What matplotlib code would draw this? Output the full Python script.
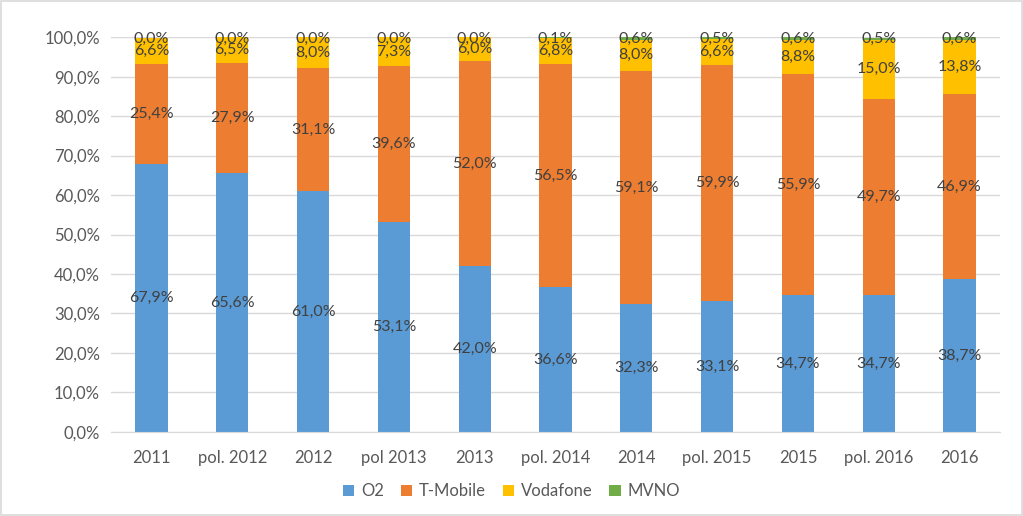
import matplotlib
matplotlib.use("Agg")
import matplotlib.pyplot as plt
import numpy as np

plt.rcParams['font.family'] = ['Lato', 'DejaVu Sans']

categories = ['2011', 'pol. 2012', '2012', 'pol 2013', '2013', 'pol. 2014',
              '2014', 'pol. 2015', '2015', 'pol. 2016', '2016']
o2 = [67.9, 65.6, 61.0, 53.1, 42.0, 36.6, 32.3, 33.1, 34.7, 34.7, 38.7]
tmobile = [25.4, 27.9, 31.1, 39.6, 52.0, 56.5, 59.1, 59.9, 55.9, 49.7, 46.9]
vodafone = [6.6, 6.5, 8.0, 7.3, 6.0, 6.8, 8.0, 6.6, 8.8, 15.0, 13.8]
mvno = [0.0, 0.0, 0.0, 0.0, 0.0, 0.1, 0.6, 0.5, 0.6, 0.5, 0.6]

series = [('O2', o2, '#5B9BD5'), ('T-Mobile', tmobile, '#ED7D31'),
          ('Vodafone', vodafone, '#FFC000'), ('MVNO', mvno, '#70AD47')]

fig = plt.figure(figsize=(10.23, 5.16), dpi=100)
ax = fig.add_axes([0.1085, 0.163, 0.869, 0.765])

x = np.arange(len(categories))
bottom = np.zeros(len(categories))
for name, vals, color in series:
    vals = np.array(vals)
    ax.bar(x, vals, 0.4, bottom=bottom, color=color, label=name, zorder=2)
    for xi, b, v in zip(x, bottom, vals):
        yc = min(b + v / 2, 99.6)
        ax.text(xi, yc, f"{v:.1f}%".replace('.', ','), ha='center', va='center',
                fontsize=11.5, color='#404040', zorder=3)
    bottom += vals

ax.set_xlim(-0.5, len(categories) - 0.5)
ax.set_ylim(0, 100)
ax.set_yticks(np.arange(0, 101, 10))
ax.set_yticklabels([f"{v:.1f}%".replace('.', ',') for v in np.arange(0, 101, 10)])
ax.set_xticks(x)
ax.set_xticklabels(categories)
ax.tick_params(length=0, labelsize=12, colors='#595959', pad=8)
ax.tick_params(axis='x', pad=13)
ax.grid(axis='y', color='#D9D9D9', linewidth=1, zorder=0)
for s in ['top', 'right', 'left']:
    ax.spines[s].set_visible(False)
ax.spines['bottom'].set_color('#D9D9D9')

leg = fig.legend(loc='center', bbox_to_anchor=(0.5, 0.048), ncol=4, frameon=False,
                 fontsize=12, handlelength=0.7, handleheight=0.7, handletextpad=0.4,
                 columnspacing=1.0)
for t in leg.get_texts():
    t.set_color('#595959')

fig.patches.append(plt.Rectangle((0.001, 0.002), 0.998, 0.996, transform=fig.transFigure,
                                 fill=False, edgecolor='#D9D9D9', linewidth=1.2))

fig.savefig('out.png', dpi=100)
